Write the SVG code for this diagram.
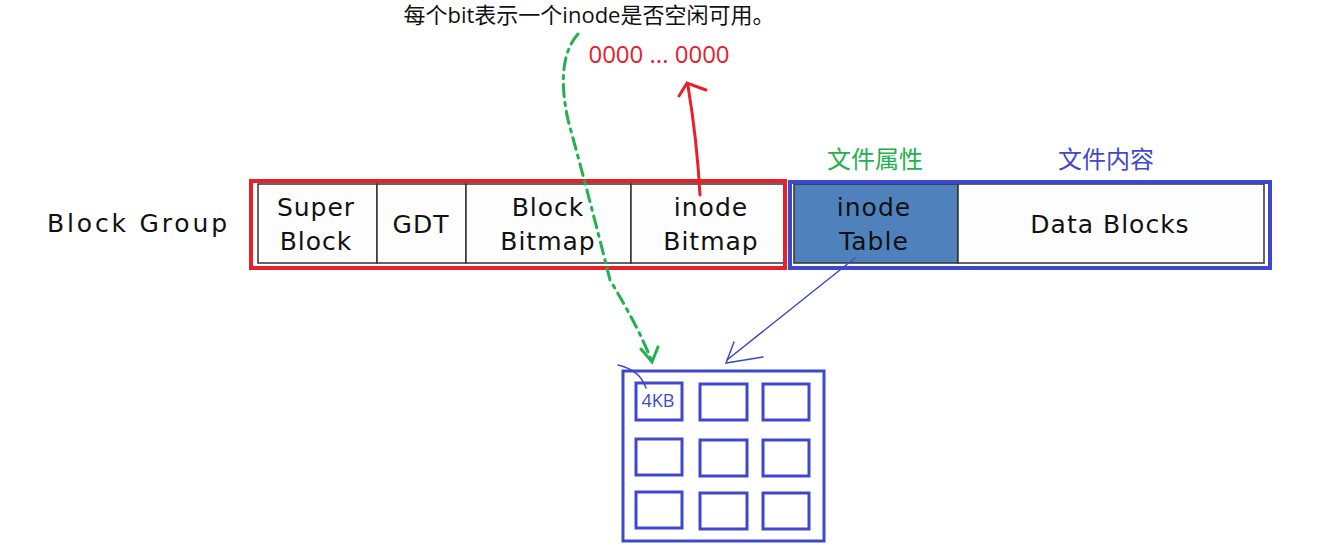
<svg xmlns="http://www.w3.org/2000/svg" width="1330" height="549" viewBox="0 0 1330 549">
<style>
text{font-family:"Open Sans","Noto Sans","Noto Sans CJK SC",sans-serif}
.lbl,.bg{font-family:"DejaVu Sans",sans-serif;letter-spacing:1px}
.cell{fill:#fdfdfd;stroke:#333;stroke-width:1.5}
.lbl{font-size:25px;fill:#111;text-anchor:middle}
.sb{fill:none;stroke:#3f48cc;stroke-width:3}
</style>
<rect width="1330" height="549" fill="#fff"/>
<text class="bg" x="47" y="232" font-size="25" fill="#111" textLength="181">Block Group</text>
<g id="block-group">
<rect class="cell" x="258" y="184" width="119" height="79"/>
<rect class="cell" x="377" y="184" width="89" height="79"/>
<rect class="cell" x="466" y="184" width="165" height="79"/>
<rect class="cell" x="631" y="184" width="153" height="79"/>
<rect x="794" y="184" width="164" height="79" fill="#4f81bd" stroke="#333" stroke-width="1.5"/>
<rect class="cell" x="958" y="184" width="306" height="79"/>
<text class="lbl" x="316" y="216">Super</text><text class="lbl" x="316" y="250">Block</text>
<text class="lbl" x="421" y="233">GDT</text>
<text class="lbl" x="548" y="216">Block</text><text class="lbl" x="548" y="250">Bitmap</text>
<text class="lbl" x="711" y="216">inode</text><text class="lbl" x="711" y="250">Bitmap</text>
<text class="lbl" x="874" y="216">inode</text><text class="lbl" x="874" y="250">Table</text>
<text class="lbl" x="1110" y="233">Data Blocks</text>
<rect x="251" y="181" width="534" height="87" fill="none" stroke="#e8202a" stroke-width="4"/>
<rect x="790" y="182" width="480" height="86" fill="none" stroke="#3f48cc" stroke-width="4"/>
</g>
<text x="875" y="168" font-size="24" fill="#22b14c" text-anchor="middle">文件属性</text>
<text x="1106" y="168" font-size="24" fill="#3f48cc" text-anchor="middle">文件内容</text>
<text x="589" y="23" font-size="22" fill="#111" text-anchor="middle">每个bit表示一个inode是否空闲可用。</text>
<text x="659" y="63" font-size="24" fill="#e8202a" text-anchor="middle">0000 ... 0000</text>
<g id="inode-table-detail">
<rect class="sb" x="623" y="371" width="201" height="170"/>
<rect class="sb" x="636" y="383" width="46" height="37"/>
<rect class="sb" x="700" y="384" width="47" height="36"/>
<rect class="sb" x="763" y="384" width="46" height="36"/>
<rect class="sb" x="636" y="439" width="46" height="36"/>
<rect class="sb" x="700" y="440" width="47" height="36"/>
<rect class="sb" x="763" y="440" width="46" height="36"/>
<rect class="sb" x="636" y="492" width="46" height="36"/>
<rect class="sb" x="700" y="493" width="47" height="36"/>
<rect class="sb" x="763" y="493" width="46" height="36"/>
<text x="658" y="407" font-size="18" fill="#3f48cc" text-anchor="middle">4KB</text>
</g>
<g id="connectors" fill="none" stroke-linecap="round">
<path d="M700 195 Q697 140 688 86" stroke="#e8202a" stroke-width="3"/>
<path d="M679 96 L687 83 L706 90" stroke="#e8202a" stroke-width="3"/>
<path d="M578 34 Q555 60 568 120 Q590 200 610 280 Q640 330 652 362" stroke="#22b14c" stroke-width="3" stroke-dasharray="12,6,3,6"/>
<path d="M641 349 L652 362 L658 347" stroke="#22b14c" stroke-width="3"/>
<path d="M855 258 Q790 310 727 360" stroke="#3f48cc" stroke-width="1.5"/>
<path d="M734 342 L726 363 L763 357" stroke="#3f48cc" stroke-width="1.5"/>
<path d="M618 365 Q640 370 646 388" stroke="#3f48cc" stroke-width="1.5"/>
</g>
</svg>
